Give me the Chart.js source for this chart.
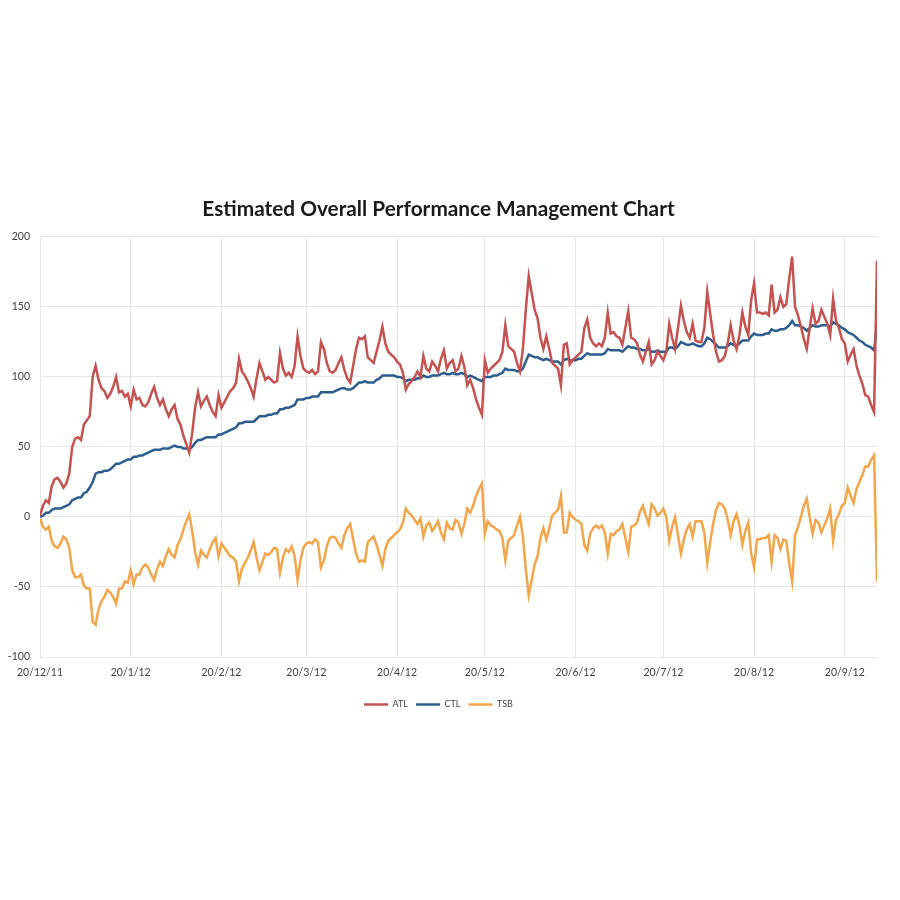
<!DOCTYPE html>
<html>
<head>
<meta charset="utf-8">
<script src="https://cdn.jsdelivr.net/npm/chart.js@4.4.0/dist/chart.umd.min.js"></script>
<style>
html, body { margin: 0; padding: 0; background: #fff; }
#wrap { width: 900px; height: 900px; }
</style>
</head>
<body>
<div id="wrap"><canvas id="chart" width="900" height="900"></canvas></div>
<script>
// day 0 = 20/12/11, one value per day
const tickDays = [0, 31, 62, 91, 122, 152, 183, 213, 244, 275];
const tickLabels = ["20/12/11", "20/1/12", "20/2/12", "20/3/12", "20/4/12", "20/5/12", "20/6/12", "20/7/12", "20/8/12", "20/9/12"];

const atl = [
    1, 8, 12, 10, 22, 27, 28, 25, 21, 24,
    31, 50, 56, 57, 55, 66, 69, 72, 100, 108,
    98, 92, 90, 85, 88, 93, 100, 89, 90, 86,
    88, 79, 91, 84, 85, 80, 79, 82, 88, 93,
    85, 80, 84, 77, 72, 77, 80, 70, 66, 58,
    52, 46, 60, 78, 89, 79, 83, 86, 80, 75,
    72, 87, 78, 82, 86, 90, 92, 96, 113, 104,
    101, 97, 92, 86, 99, 110, 104, 98, 100, 98,
    96, 97, 117, 106, 101, 103, 100, 108, 129, 115,
    106, 104, 103, 105, 102, 104, 125, 120, 110, 104,
    103, 105, 110, 114, 105, 99, 96, 108, 120, 128,
    127, 129, 114, 112, 110, 118, 126, 136, 124, 118,
    116, 114, 111, 109, 103, 91, 95, 97, 100, 104,
    100, 115, 106, 104, 111, 108, 104, 113, 119, 106,
    110, 112, 104, 106, 115, 107, 94, 98, 92, 84,
    78, 73, 112, 103, 106, 108, 110, 112, 118, 137,
    122, 120, 118, 110, 104, 120, 148, 172, 160, 148,
    142, 128, 120, 129, 120, 110, 108, 106, 94, 123,
    124, 109, 112, 114, 116, 118, 135, 141, 128, 124,
    122, 124, 122, 128, 146, 131, 132, 129, 128, 123,
    135, 147, 128, 127, 124, 116, 111, 118, 125, 109,
    112, 118, 115, 112, 118, 138, 128, 120, 135, 151,
    140, 132, 128, 138, 126, 125, 125, 135, 161, 145,
    130, 118, 111, 112, 115, 124, 137, 126, 120, 130,
    146, 136, 130, 155, 167, 146, 146, 145, 146, 144,
    166, 146, 148, 157, 150, 152, 170, 186, 150, 144,
    136, 127, 120, 135, 149, 138, 140, 148, 143, 138,
    130, 156, 140, 135, 127, 124, 111, 116, 120, 108,
    101, 95, 87, 86, 80, 75, 183
];

const ctl = [
    0, 1, 3, 3, 5, 6, 6, 6, 7, 8,
    9, 12, 13, 14, 14, 17, 18, 21, 25, 31,
    32, 32, 33, 33, 34, 36, 38, 38, 39, 40,
    41, 41, 43, 43, 44, 44, 45, 46, 47, 48,
    48, 48, 49, 49, 49, 50, 51, 50, 50, 49,
    49, 48, 50, 53, 55, 55, 56, 57, 57, 57,
    57, 59, 59, 60, 61, 62, 63, 64, 67, 67,
    68, 68, 68, 68, 70, 72, 72, 72, 73, 73,
    74, 74, 77, 77, 78, 78, 79, 80, 84, 84,
    84, 85, 85, 86, 86, 86, 89, 89, 89, 89,
    89, 90, 91, 92, 92, 91, 91, 92, 94, 96,
    96, 97, 96, 96, 96, 98, 99, 101, 101, 101,
    101, 101, 100, 100, 99, 97, 98, 98, 98, 99,
    99, 101, 100, 100, 101, 101, 101, 102, 103, 102,
    102, 103, 102, 102, 103, 102, 100, 101, 100, 99,
    98, 97, 100, 100, 100, 101, 101, 102, 103, 106,
    105, 105, 105, 104, 104, 106, 111, 116, 115, 114,
    114, 113, 112, 113, 112, 111, 111, 111, 109, 112,
    113, 112, 112, 112, 113, 113, 115, 117, 116, 116,
    116, 116, 116, 117, 120, 119, 119, 119, 119, 118,
    120, 122, 121, 121, 120, 120, 119, 119, 120, 118,
    118, 119, 118, 118, 118, 121, 121, 120, 122, 125,
    124, 123, 123, 124, 123, 122, 122, 124, 128, 127,
    125, 123, 121, 121, 121, 122, 124, 123, 122, 124,
    126, 126, 126, 129, 131, 130, 130, 130, 131, 131,
    134, 133, 133, 134, 134, 135, 137, 140, 137, 137,
    136, 135, 133, 135, 137, 136, 136, 137, 137, 137,
    136, 139, 138, 137, 135, 134, 132, 131, 130, 128,
    126, 125, 123, 122, 121, 119, 137
];

const tsb = [
    -1, -7, -9, -7, -17, -21, -22, -19, -14, -16,
    -22, -38, -43, -43, -41, -49, -51, -51, -75, -77,
    -66, -60, -57, -52, -54, -57, -62, -51, -51, -46,
    -47, -38, -48, -41, -41, -36, -34, -36, -41, -45,
    -37, -32, -35, -28, -23, -27, -29, -20, -16, -9,
    -3, 2, -10, -25, -34, -24, -27, -29, -23, -18,
    -15, -28, -19, -22, -25, -28, -29, -32, -46, -37,
    -33, -29, -24, -18, -29, -38, -32, -26, -27, -25,
    -22, -23, -40, -29, -23, -25, -21, -28, -45, -31,
    -22, -19, -18, -19, -16, -18, -36, -31, -21, -15,
    -14, -15, -19, -22, -13, -8, -5, -16, -26, -32,
    -31, -32, -18, -16, -14, -20, -27, -35, -23, -17,
    -15, -13, -11, -9, -4, 6, 3, 1, -2, -5,
    -1, -14, -6, -4, -10, -7, -3, -11, -16, -4,
    -8, -9, -2, -4, -12, -5, 6, 3, 8, 15,
    20, 24, -12, -3, -6, -7, -9, -10, -15, -31,
    -17, -15, -13, -6, 0, -14, -37, -56, -45, -34,
    -28, -15, -8, -16, -8, 1, 3, 5, 15, -11,
    -11, 3, 0, -2, -3, -5, -20, -24, -12, -8,
    -6, -8, -6, -11, -26, -12, -13, -10, -9, -5,
    -15, -25, -7, -6, -4, 4, 8, 1, -5, 9,
    6, 1, 3, 6, 0, -17, -7, 0, -13, -26,
    -16, -9, -5, -14, -3, -3, -3, -11, -33, -18,
    -5, 5, 10, 9, 6, -2, -13, -3, 2, -6,
    -20, -10, -4, -26, -36, -16, -16, -15, -15, -13,
    -32, -13, -15, -23, -16, -17, -33, -46, -13, -7,
    0, 8, 13, 0, -12, -2, -4, -11, -6, -1,
    6, -17, -2, 2, 8, 10, 21, 15, 10, 20,
    25, 30, 36, 36, 41, 44, -46
];

const seriesNames = ["ATL", "CTL", "TSB"];
const seriesColors = ["#c4524e", "#2b5d8e", "#f2a54a"];

const toPoints = (values)=>values.map((v, i)=>({x: i, y: v}));
const fontFamily = "Lato, 'Open Sans', sans-serif";
const gridColor = "#e6e6e6";

new Chart(document.getElementById("chart"), {
    type: "line",
    data: {
        datasets: [atl, ctl, tsb].map((values, i)=>({
            label: seriesNames[i],
            data: toPoints(values),
            borderColor: seriesColors[i],
            backgroundColor: seriesColors[i],
            borderWidth: 2.5,
            pointRadius: 0,
            tension: 0,
            fill: false,
        })),
    },
    options: {
        responsive: false,
        animation: false,
        layout: {
            padding: {top: 197, right: 23, bottom: 181, left: 0},
        },
        plugins: {
            title: {
                display: true,
                text: "Estimated Overall Performance Management Chart",
                color: "#1a1a1a",
                font: {family: fontFamily, size: 20.8, weight: "bold"},
                padding: {top: 0, bottom: 15},
            },
            legend: {
                position: "bottom",
                labels: {
                    usePointStyle: true,
                    pointStyle: "line",
                    pointStyleWidth: 24,
                    padding: 8,
                    color: "#444",
                    font: {family: fontFamily, size: 9},
                },
            },
            tooltip: {enabled: false},
        },
        scales: {
            x: {
                type: "linear",
                min: 0,
                max: atl.length - 1,
                afterBuildTicks: (scale)=>{ scale.ticks = tickDays.map(v=>({value: v})); },
                afterFit: (scale)=>{ scale.height = 35; },
                ticks: {
                    callback: (v)=>tickLabels[tickDays.indexOf(v)],
                    maxRotation: 0,
                    autoSkip: false,
                    padding: 9,
                    color: "#404040",
                    font: {family: fontFamily, size: 10.5},
                },
                grid: {color: gridColor, drawTicks: false},
                border: {display: false},
            },
            y: {
                min: -100,
                max: 200,
                afterFit: (scale)=>{ scale.width = 40; },
                ticks: {
                    stepSize: 50,
                    padding: 10,
                    color: "#404040",
                    font: {family: fontFamily, size: 10.5},
                },
                grid: {color: gridColor, drawTicks: false},
                border: {display: false},
            },
        },
    },
});
</script>
</body>
</html>
